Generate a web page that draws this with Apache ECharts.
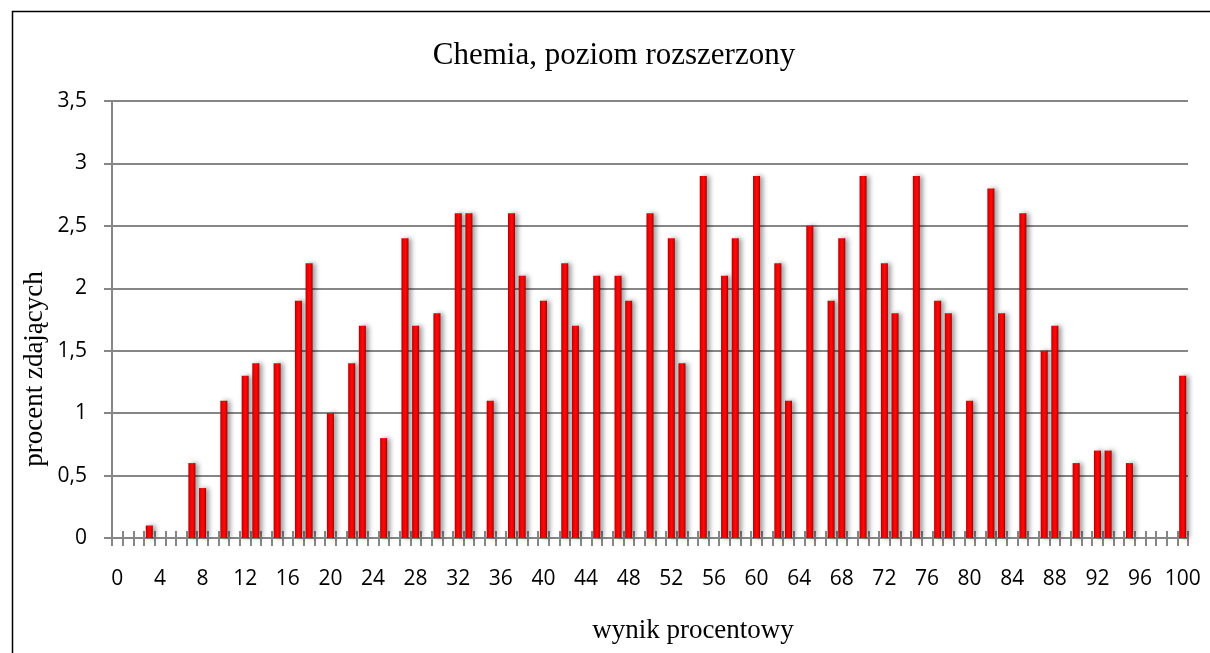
<!DOCTYPE html>
<html>
<head>
<meta charset="utf-8">
<script src="https://cdn.jsdelivr.net/npm/echarts@6/dist/echarts.min.js"></script>
<style>
html,body{margin:0;padding:0;background:#fff;}
#c{width:1210px;height:653px;}
</style>
</head>
<body>
<div id="c"></div>
<script>
// Categories: percent score 0..100
const categories = Array.from({length: 101}, (_, i) => String(i));
// Percent of candidates for each score
const values = [
  0, 0, 0, 0.1, 0, 0, 0, 0.6, 0.4, 0,
  1.1, 0, 1.3, 1.4, 0, 1.4, 0, 1.9, 2.2, 0,
  1.0, 0, 1.4, 1.7, 0, 0.8, 0, 2.4, 1.7, 0,
  1.8, 0, 2.6, 2.6, 0, 1.1, 0, 2.6, 2.1, 0,
  1.9, 0, 2.2, 1.7, 0, 2.1, 0, 2.1, 1.9, 0,
  2.6, 0, 2.4, 1.4, 0, 2.9, 0, 2.1, 2.4, 0,
  2.9, 0, 2.2, 1.1, 0, 2.5, 0, 1.9, 2.4, 0,
  2.9, 0, 2.2, 1.8, 0, 2.9, 0, 1.9, 1.8, 0,
  1.1, 0, 2.8, 1.8, 0, 2.6, 0, 1.5, 1.7, 0,
  0.6, 0, 0.7, 0.7, 0, 0.6, 0, 0, 0, 0,
  1.3
];
const titleText = 'Chemia, poziom rozszerzony';
const yName = 'procent zdających';
const xName = 'wynik procentowy';
const yMin = 0, yMax = 3.5, yStep = 0.5;

const chart = echarts.init(document.getElementById('c'), null, {renderer: 'canvas'});
const serif = '"Liberation Serif", "Times New Roman", serif';
const sans = '"Open Sans", sans-serif';
const gridGray = '#868686';

chart.setOption({
  animation: false,
  backgroundColor: '#ffffff',
  grid: {left: 112, right: 22, top: 101, bottom: 115, containLabel: false},
  xAxis: [{
    type: 'category',
    data: categories,
    boundaryGap: true,
    position: 'bottom',
    axisLine: {show: true, lineStyle: {color: gridGray, width: 2}},
    axisTick: {show: true, inside: false, length: 8, interval: 0, lineStyle: {color: gridGray, width: 2}},
    axisLabel: {interval: 3, color: '#000', fontFamily: sans, fontSize: 21, margin: 31},
    splitLine: {show: false}
  }, {
    type: 'category',
    data: categories,
    boundaryGap: true,
    position: 'bottom',
    axisLine: {show: false},
    axisTick: {show: true, inside: true, length: 7, interval: 0, lineStyle: {color: gridGray, width: 2}},
    axisLabel: {show: false},
    splitLine: {show: false}
  }],
  yAxis: {
    type: 'value',
    min: yMin, max: yMax, interval: yStep,
    axisLine: {show: true, lineStyle: {color: gridGray, width: 2}},
    axisTick: {show: true, length: 8, lineStyle: {color: gridGray, width: 2}},
    axisLabel: {
      color: '#000', fontFamily: sans, fontSize: 21, margin: 25,
      formatter: v => String(v).replace('.', ',')
    },
    splitLine: {show: true, lineStyle: {color: gridGray, width: 2}}
  },
  series: [{
    type: 'bar',
    data: values,
    xAxisIndex: 0,
    barWidth: 7,
    itemStyle: {
      color: new echarts.graphic.LinearGradient(0, 0, 1, 0, [
        {offset: 0, color: '#a00000'},
        {offset: 0.2, color: '#e80000'},
        {offset: 0.55, color: '#ff0a0a'},
        {offset: 0.82, color: '#e00000'},
        {offset: 1, color: '#8c0000'}
      ]),
      shadowColor: 'rgba(0,0,0,0.4)',
      shadowBlur: 5,
      shadowOffsetX: 3,
      shadowOffsetY: 0
    }
  }],
  graphic: [
    {type: 'rect', left: 10, top: 9, silent: true, z: -1,
      shape: {width: 1220, height: 700},
      style: {fill: 'none', stroke: '#000', lineWidth: 1.5}},
    {type: 'text', x: 614, y: 56, silent: true,
      style: {text: titleText, font: '31px ' + serif, fill: '#000', align: 'center', verticalAlign: 'middle'}},
    {type: 'text', x: 35, y: 369, rotation: Math.PI / 2, silent: true,
      style: {text: yName, font: '27px ' + serif, fill: '#000', align: 'center', verticalAlign: 'middle'}},
    {type: 'text', x: 693, y: 631, silent: true,
      style: {text: xName, font: '27px ' + serif, fill: '#000', align: 'center', verticalAlign: 'middle'}}
  ]
});
</script>
</body>
</html>
